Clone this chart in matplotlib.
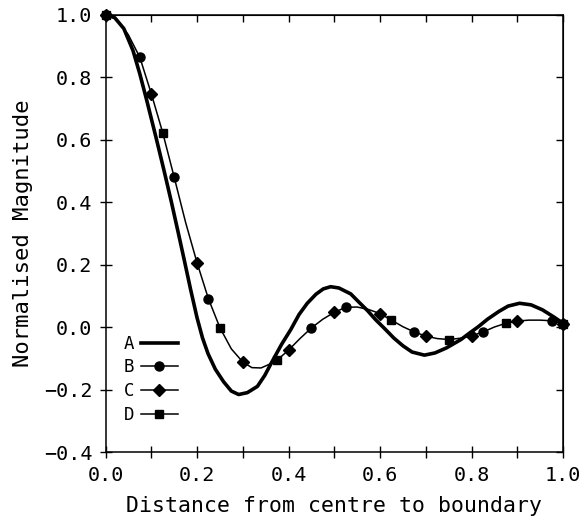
import matplotlib
matplotlib.use("Agg")
import matplotlib.pyplot as plt
from matplotlib.lines import Line2D

plt.rcParams["font.family"] = ["DejaVu Sans Mono", "DejaVu Sans"]

# curve A (thick, no markers)
a_x = [0.0, 0.02, 0.04, 0.06, 0.075, 0.09, 0.111, 0.128, 0.144, 0.16, 0.172,
       0.186, 0.2, 0.212, 0.224, 0.24, 0.258, 0.275, 0.291, 0.31, 0.332, 0.348,
       0.364, 0.385, 0.405, 0.423, 0.441, 0.46, 0.476, 0.492, 0.51, 0.536,
       0.555, 0.573, 0.59, 0.61, 0.63, 0.65, 0.67, 0.697, 0.72, 0.745, 0.777,
       0.795, 0.814, 0.835, 0.86, 0.88, 0.905, 0.93, 0.955, 0.98, 1.0]
a_y = [1.0, 0.99, 0.955, 0.885, 0.81, 0.726, 0.603, 0.5, 0.4, 0.295, 0.215,
       0.12, 0.03, -0.035, -0.085, -0.135, -0.175, -0.205, -0.216, -0.21, -0.19,
       -0.155, -0.111, -0.055, -0.008, 0.04, 0.076, 0.105, 0.122, 0.129, 0.125,
       0.106, 0.078, 0.052, 0.024, -0.005, -0.035, -0.06, -0.08, -0.09, -0.083,
       -0.067, -0.04, -0.02, 0.0, 0.025, 0.05, 0.067, 0.076, 0.071, 0.055, 0.032,
       0.012]

# thin curve shared by B, C and D
t_x = [0.0, 0.025, 0.05, 0.075, 0.1, 0.125, 0.15, 0.175, 0.2, 0.225, 0.25,
       0.275, 0.3, 0.32, 0.34, 0.36, 0.375, 0.4, 0.425, 0.45, 0.475, 0.5,
       0.525, 0.55, 0.575, 0.6, 0.625, 0.65, 0.675, 0.7, 0.725, 0.75, 0.775,
       0.8, 0.825, 0.85, 0.875, 0.9, 0.925, 0.95, 0.975, 1.0]
t_y = [1.0, 0.985, 0.935, 0.863, 0.747, 0.622, 0.48, 0.335, 0.206, 0.09,
       -0.002, -0.07, -0.112, -0.13, -0.131, -0.118, -0.106, -0.074, -0.037,
       -0.003, 0.025, 0.047, 0.063, 0.064, 0.056, 0.043, 0.022, 0.001, -0.016,
       -0.029, -0.037, -0.04, -0.036, -0.028, -0.016, 0.0, 0.012, 0.019, 0.022,
       0.022, 0.02, 0.01]

# marker points
b_x = [0.0, 0.075, 0.15, 0.225, 0.45, 0.525, 0.675, 0.825, 0.975, 1.0]
b_y = [1.0, 0.863, 0.48, 0.09, -0.003, 0.063, -0.016, -0.016, 0.02, 0.01]
c_x = [0.0, 0.1, 0.2, 0.3, 0.4, 0.5, 0.6, 0.7, 0.8, 0.9, 1.0]
c_y = [1.0, 0.747, 0.206, -0.112, -0.074, 0.047, 0.043, -0.029, -0.028, 0.019, 0.01]
d_x = [0.0, 0.125, 0.25, 0.375, 0.625, 0.75, 0.875, 1.0]
d_y = [1.0, 0.622, -0.002, -0.106, 0.022, -0.04, 0.012, 0.01]

labels = ["A", "B", "C", "D"]

fig = plt.figure(figsize=(5.82, 5.17), dpi=100)
ax = fig.add_axes([0.1813, 0.1257, 0.7861, 0.8462])

ax.plot(a_x, a_y, color="black", lw=2.6, zorder=3)
ax.plot(t_x, t_y, color="black", lw=1.1, zorder=2)
ax.plot(b_x, b_y, "o", color="black", ms=6.5, zorder=4, clip_on=False)
ax.plot(c_x, c_y, "D", color="black", ms=6, zorder=5, clip_on=False)
ax.plot(d_x, d_y, "s", color="black", ms=6, zorder=6, clip_on=False)

ax.set_xlim(0, 1)
ax.set_ylim(-0.4, 1.0)

xt = [0.0, 0.2, 0.4, 0.6, 0.8, 1.0]
yt = [-0.4, -0.2, 0.0, 0.2, 0.4, 0.6, 0.8, 1.0]
ax.set_xticks(xt)
ax.set_xticks([0.1, 0.3, 0.5, 0.7, 0.9], minor=True)
ax.set_xticklabels([f"{v:.1f}" for v in xt])
ax.set_yticks(yt)
ax.set_yticklabels([f"{v:.1f}".replace("-", "\u2212") for v in yt])
ax.tick_params(axis="x", which="both", direction="inout", length=8, width=1,
               labelsize=14.5, pad=6)
ax.tick_params(axis="y", direction="inout", length=9, width=1, labelsize=14.5, pad=5)

top = ax.secondary_xaxis("top")
top.set_xticks([0.0, 0.1, 0.2, 0.3, 0.4, 0.5, 0.6, 0.7, 0.8, 0.9, 1.0])
top.tick_params(direction="in", length=5, width=1, labeltop=False)
right = ax.secondary_yaxis("right")
right.set_yticks(yt)
right.tick_params(direction="in", length=5, width=1, labelright=False)

for s in ax.spines.values():
    s.set_linewidth(1.1)

ax.set_xlabel("Distance from centre to boundary", fontsize=15.5, labelpad=8)
ax.set_ylabel("Normalised Magnitude", fontsize=16, labelpad=8)

handles = [Line2D([], [], color="black", lw=2.6),
           Line2D([], [], color="black", lw=1.1, marker="o", ms=6.5),
           Line2D([], [], color="black", lw=1.1, marker="D", ms=6),
           Line2D([], [], color="black", lw=1.1, marker="s", ms=6)]
ax.legend(handles, labels, loc="upper left", bbox_to_anchor=(0.04, 0.268),
          frameon=False, markerfirst=False, handlelength=2.1,
          handletextpad=0.4, labelspacing=0.33, fontsize=12.5,
          borderpad=0, borderaxespad=0)

plt.savefig("out.png", dpi=100)
